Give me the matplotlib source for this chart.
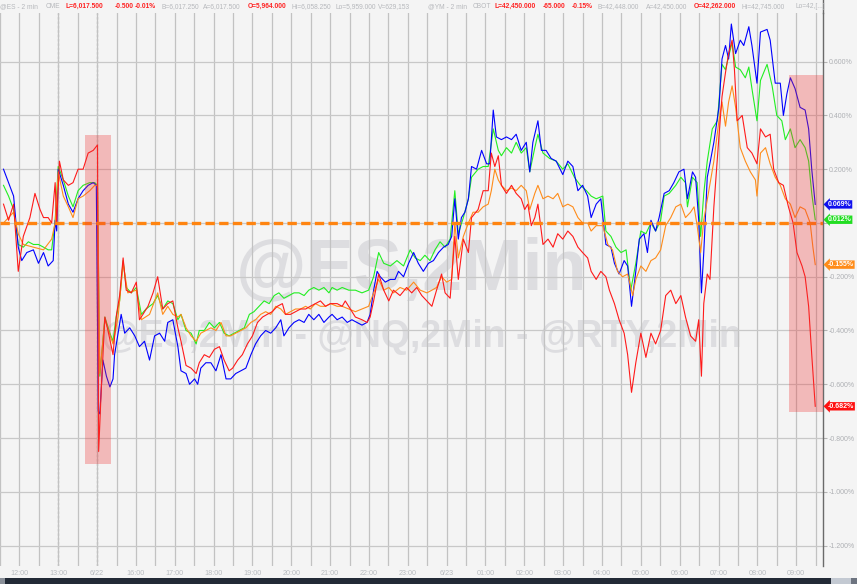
import matplotlib
matplotlib.use('Agg')
import numpy as np
import matplotlib.pyplot as plt
import matplotlib.transforms as mtransforms
from matplotlib.patches import Rectangle

plt.rcParams['font.family'] = ['Liberation Sans', 'DejaVu Sans']

# x = hours on the session axis (0 = 12:00, 2 = 6/22 open, 11 = 6/23 00:00, 20 = 09:00)
# y = % change
nq_x = [-0.41, -0.28, -0.15, -0.03, 0.06, 0.19, 0.36, 0.49, 0.62, 0.74, 0.87, 0.92, 0.96, 1.00,
        1.13, 1.26, 1.38, 1.51, 1.64, 1.77, 1.90, 1.98, 2.03, 2.07, 2.15, 2.24, 2.33, 2.41, 2.45,
        2.54, 2.62, 2.71, 2.84, 2.97, 3.09, 3.22, 3.35, 3.48, 3.61, 3.74, 3.82, 3.95, 4.08, 4.16,
        4.29, 4.38, 4.51, 4.59, 4.67, 4.80, 4.93, 5.06, 5.19, 5.32, 5.44, 5.57, 5.70, 5.83, 5.96,
        6.08, 6.21, 6.34, 6.47, 6.60, 6.73, 6.81, 6.94, 7.07, 7.20, 7.33, 7.45, 7.58, 7.71, 7.84,
        7.97, 8.05, 8.18, 8.31, 8.44, 8.56, 8.69, 8.82, 8.95, 9.03, 9.12, 9.21, 9.29, 9.42, 9.55,
        9.67, 9.76, 9.89, 10.02, 10.15, 10.27, 10.40, 10.53, 10.66, 10.79, 10.92, 11.04, 11.13,
        11.21, 11.30, 11.38, 11.47, 11.56, 11.64, 11.77, 11.90, 12.03, 12.11, 12.20, 12.28, 12.41,
        12.54, 12.67, 12.79, 12.92, 13.05, 13.14, 13.22, 13.35, 13.44, 13.56, 13.69, 13.82, 13.99,
        14.12, 14.25, 14.38, 14.50, 14.63, 14.72, 14.85, 14.97, 15.10, 15.23, 15.32, 15.44, 15.57,
        15.66, 15.76, 15.87, 15.96, 16.08, 16.17, 16.26, 16.38, 16.47, 16.60, 16.73, 16.85, 16.98,
        17.11, 17.20, 17.33, 17.41, 17.49, 17.56, 17.62, 17.71, 17.79, 17.88, 18.01, 18.09, 18.18,
        18.26, 18.33, 18.44, 18.56, 18.65, 18.78, 18.86, 18.99, 19.08, 19.25, 19.33, 19.46, 19.59,
        19.67, 19.76, 19.85, 19.97, 20.10, 20.23, 20.32, 20.40, 20.49]
nq_y = [0.20, 0.15, 0.10, -0.09, -0.14, -0.11, -0.10, -0.15, -0.11, -0.16, -0.14, 0.01, -0.03, 0.20,
        0.14, 0.07, 0.04, 0.09, 0.12, 0.14, 0.15, 0.14, -0.70, -0.71, -0.51, -0.57, -0.61, -0.58, -0.49,
        -0.41, -0.34, -0.41, -0.39, -0.42, -0.46, -0.44, -0.51, -0.42, -0.41, -0.44, -0.37, -0.36, -0.46, -0.55,
        -0.56, -0.60, -0.58, -0.60, -0.54, -0.52, -0.52, -0.55, -0.49, -0.58, -0.58, -0.56, -0.55, -0.54, -0.49,
        -0.45, -0.42, -0.40, -0.41, -0.39, -0.36, -0.42, -0.39, -0.37, -0.36, -0.37, -0.34, -0.36, -0.34, -0.37,
        -0.35, -0.34, -0.36, -0.35, -0.37, -0.36, -0.37, -0.38, -0.37, -0.34, -0.25, -0.18, -0.20, -0.22, -0.21,
        -0.21, -0.18, -0.20, -0.15, -0.11, -0.15, -0.18, -0.15, -0.14, -0.11, -0.09, -0.08, -0.05,
        0.09, -0.06, 0.02, 0.04, 0.09, 0.21, 0.20, 0.27, 0.22, 0.22, 0.42, 0.32, 0.31,
        0.32, 0.31, 0.33, 0.27, 0.30, 0.19, 0.30, 0.38, 0.27, 0.27, 0.24, 0.23, 0.18,
        0.23, 0.21, 0.12, 0.14, 0.10, 0.02, 0.07, 0.09, -0.08, -0.09, -0.15, -0.19, -0.14,
        -0.16, -0.31, -0.18, -0.06, -0.04, -0.11, 0.01, -0.03, 0.02, 0.11, 0.12, 0.15, 0.19,
        0.20, 0.09, 0.19, 0.17, 0.01, -0.26, -0.11, 0.17, 0.23, 0.30, 0.43, 0.61, 0.66,
        0.61, 0.74, 0.63, 0.68, 0.66, 0.73, 0.66, 0.52, 0.71, 0.72, 0.68, 0.52, 0.52,
        0.40, 0.48, 0.54, 0.50, 0.43, 0.42, 0.35, 0.20, 0.069]

es_x = [-0.41, -0.28, -0.15, -0.03, 0.10, 0.23, 0.36, 0.49, 0.62, 0.74, 0.83, 0.92, 1.00, 1.13,
        1.26, 1.38, 1.51, 1.64, 1.81, 1.94, 2.01, 2.07, 2.20, 2.33, 2.41, 2.49, 2.58, 2.67, 2.75,
        2.88, 3.01, 3.14, 3.26, 3.44, 3.56, 3.69, 3.82, 3.95, 4.08, 4.16, 4.29, 4.42, 4.55, 4.63,
        4.76, 4.89, 5.02, 5.15, 5.27, 5.40, 5.53, 5.66, 5.79, 5.92, 6.04, 6.17, 6.30, 6.43, 6.56,
        6.68, 6.81, 6.94, 7.07, 7.20, 7.33, 7.45, 7.58, 7.71, 7.84, 7.97, 8.05, 8.18, 8.31, 8.48,
        8.65, 8.82, 8.99, 9.12, 9.25, 9.38, 9.55, 9.72, 9.89, 10.06, 10.19, 10.32, 10.44, 10.57,
        10.70, 10.83, 10.96, 11.09, 11.21, 11.30, 11.43, 11.56, 11.64, 11.81, 11.94, 12.07, 12.20,
        12.33, 12.41, 12.54, 12.67, 12.79, 12.92, 13.05, 13.14, 13.27, 13.35, 13.48, 13.65, 13.82,
        13.99, 14.12, 14.29, 14.44, 14.60, 14.72, 14.85, 15.02, 15.10, 15.23, 15.36, 15.49, 15.62,
        15.74, 15.87, 16.00, 16.13, 16.26, 16.38, 16.51, 16.60, 16.73, 16.90, 17.03, 17.15, 17.20,
        17.33, 17.45, 17.54, 17.62, 17.71, 17.84, 17.97, 18.09, 18.18, 18.26, 18.35, 18.44, 18.56,
        18.69, 18.78, 18.86, 18.99, 19.08, 19.25, 19.38, 19.50, 19.63, 19.72, 19.85, 19.97, 20.10,
        20.23, 20.32, 20.40, 20.49]
es_y = [0.14, 0.10, 0.05, -0.08, -0.09, -0.07, -0.08, -0.08, -0.09, -0.10, -0.10, 0.01, 0.21, 0.16,
        0.10, 0.06, 0.12, 0.14, 0.15, 0.15, 0.14, -0.57, -0.35, -0.41, -0.44, -0.35, -0.29, -0.14, -0.24,
        -0.26, -0.24, -0.34, -0.32, -0.30, -0.27, -0.32, -0.29, -0.30, -0.36, -0.34, -0.40, -0.41, -0.45, -0.40,
        -0.40, -0.37, -0.39, -0.37, -0.41, -0.42, -0.41, -0.40, -0.39, -0.34, -0.33, -0.31, -0.29, -0.30, -0.27,
        -0.26, -0.28, -0.27, -0.26, -0.26, -0.27, -0.25, -0.24, -0.25, -0.24, -0.26, -0.24, -0.25, -0.24, -0.25,
        -0.25, -0.26, -0.25, -0.20, -0.11, -0.15, -0.16, -0.14, -0.16, -0.10, -0.13, -0.14, -0.12, -0.14,
        -0.10, -0.07, -0.09, -0.06, 0.12, -0.04, 0.02, 0.09, 0.17, 0.20, 0.21, 0.21, 0.35,
        0.27, 0.25, 0.28, 0.26, 0.30, 0.26, 0.28, 0.19, 0.28, 0.33, 0.26, 0.24, 0.23,
        0.20, 0.22, 0.17, 0.14, 0.12, 0.10, 0.09, 0.10, -0.03, -0.05, -0.09, -0.11, -0.10,
        -0.25, -0.15, -0.03, -0.04, 0.00, -0.03, 0.01, 0.10, 0.11, 0.14, 0.17, 0.15, 0.06,
        0.17, 0.15, -0.05, 0.11, 0.23, 0.35, 0.38, 0.59, 0.57, 0.62, 0.67, 0.58, 0.57,
        0.54, 0.58, 0.50, 0.38, 0.53, 0.59, 0.51, 0.40, 0.38, 0.31, 0.35, 0.28, 0.31,
        0.28, 0.23, 0.11, 0.012]

ym_x = [-0.41, -0.28, -0.15, -0.03, 0.10, 0.36, 0.62, 0.83, 0.92, 1.00, 1.13, 1.26, 1.38, 1.51,
        1.64, 1.81, 1.94, 2.01, 2.07, 2.20, 2.41, 2.54, 2.67, 2.79, 3.01, 3.14, 3.35, 3.56, 3.69,
        3.82, 3.95, 4.08, 4.16, 4.29, 4.42, 4.55, 4.67, 4.80, 4.93, 5.06, 5.19, 5.32, 5.44, 5.57,
        5.70, 5.83, 5.96, 6.08, 6.21, 6.34, 6.47, 6.60, 6.73, 6.85, 6.98, 7.11, 7.24, 7.37, 7.49,
        7.62, 7.75, 7.88, 8.01, 8.18, 8.31, 8.48, 8.65, 8.82, 8.99, 9.12, 9.25, 9.38, 9.51, 9.63,
        9.80, 9.97, 10.15, 10.32, 10.49, 10.62, 10.74, 10.87, 11.00, 11.13, 11.21, 11.30, 11.43,
        11.56, 11.68, 11.81, 11.94, 12.07, 12.15, 12.24, 12.33, 12.41, 12.54, 12.67, 12.79, 12.92,
        13.05, 13.14, 13.27, 13.35, 13.48, 13.61, 13.74, 13.86, 13.99, 14.12, 14.25, 14.38, 14.50,
        14.63, 14.72, 14.85, 15.02, 15.15, 15.27, 15.40, 15.53, 15.66, 15.79, 15.87, 16.00, 16.13,
        16.26, 16.38, 16.51, 16.64, 16.77, 16.90, 17.03, 17.15, 17.28, 17.37, 17.45, 17.54, 17.62,
        17.75, 17.88, 18.01, 18.09, 18.18, 18.26, 18.35, 18.44, 18.56, 18.69, 18.82, 18.95, 18.99,
        19.08, 19.21, 19.33, 19.46, 19.59, 19.72, 19.85, 19.97, 20.10, 20.23, 20.36, 20.43, 20.49]
ym_y = [0.00, 0.02, 0.04, -0.04, -0.08, -0.09, -0.10, -0.06, 0.00, 0.19, 0.10, 0.06, 0.02, 0.09,
        0.10, 0.12, 0.14, 0.14, -0.56, -0.36, -0.45, -0.35, -0.15, -0.26, -0.25, -0.36, -0.34, -0.26, -0.34,
        -0.31, -0.34, -0.35, -0.34, -0.39, -0.42, -0.44, -0.41, -0.40, -0.39, -0.40, -0.37, -0.42, -0.42, -0.41,
        -0.40, -0.39, -0.37, -0.36, -0.34, -0.33, -0.34, -0.31, -0.32, -0.34, -0.33, -0.32, -0.32, -0.31, -0.32,
        -0.30, -0.31, -0.31, -0.30, -0.31, -0.31, -0.32, -0.33, -0.32, -0.31, -0.26, -0.21, -0.25, -0.24, -0.26,
        -0.24, -0.25, -0.22, -0.25, -0.26, -0.25, -0.24, -0.20, -0.22, -0.21, 0.00, -0.13, -0.05,
        0.00, 0.04, 0.04, 0.06, 0.07, 0.12, 0.20, 0.16, 0.14, 0.12, 0.13, 0.12, 0.14,
        0.12, 0.05, 0.11, 0.14, 0.09, 0.10, 0.09, 0.11, 0.06, 0.07, 0.06, 0.02, 0.00,
        0.00, -0.03, -0.01, -0.01, -0.08, -0.10, -0.18, -0.20, -0.19, -0.27, -0.21, -0.16, -0.18,
        -0.14, -0.13, -0.10, -0.01, 0.02, 0.06, 0.07, 0.02, 0.04, 0.06, -0.01, -0.11, 0.01,
        0.12, 0.23, 0.38, 0.45, 0.36, 0.45, 0.51, 0.43, 0.28, 0.23, 0.19, 0.16, 0.10,
        0.26, 0.28, 0.22, 0.17, 0.14, 0.09, 0.07, 0.02, 0.06, 0.05, 0.00, -0.09, -0.155]

rty_x = [-0.41, -0.28, -0.15, -0.03, 0.10, 0.27, 0.40, 0.53, 0.62, 0.74, 0.83, 0.92, 0.96, 1.03,
         1.13, 1.26, 1.38, 1.51, 1.64, 1.77, 1.90, 2.01, 2.04, 2.11, 2.20, 2.28, 2.41, 2.50, 2.58,
         2.67, 2.75, 2.88, 3.01, 3.09, 3.18, 3.31, 3.44, 3.56, 3.69, 3.82, 3.95, 4.08, 4.16, 4.29,
         4.42, 4.55, 4.63, 4.76, 4.89, 5.02, 5.15, 5.27, 5.40, 5.49, 5.62, 5.74, 5.87, 6.00, 6.13,
         6.26, 6.38, 6.51, 6.64, 6.77, 6.85, 6.98, 7.11, 7.24, 7.37, 7.49, 7.62, 7.75, 7.88, 8.01,
         8.18, 8.31, 8.39, 8.52, 8.65, 8.82, 8.95, 9.03, 9.12, 9.25, 9.38, 9.51, 9.63, 9.80, 9.97,
         10.10, 10.23, 10.36, 10.49, 10.62, 10.74, 10.87, 10.96, 11.09, 11.21, 11.30, 11.43, 11.56,
         11.64, 11.81, 11.94, 12.07, 12.15, 12.24, 12.33, 12.41, 12.54, 12.67, 12.79, 12.92, 13.01,
         13.09, 13.18, 13.27, 13.35, 13.48, 13.61, 13.74, 13.86, 13.99, 14.12, 14.25, 14.38, 14.50,
         14.63, 14.72, 14.85, 14.97, 15.10, 15.19, 15.32, 15.44, 15.57, 15.66, 15.76, 15.87, 16.00,
         16.13, 16.26, 16.38, 16.51, 16.64, 16.77, 16.90, 17.03, 17.15, 17.28, 17.41, 17.49, 17.56,
         17.62, 17.71, 17.78, 17.88, 18.01, 18.09, 18.18, 18.26, 18.35, 18.41, 18.48, 18.61, 18.74,
         18.86, 18.99, 19.08, 19.21, 19.33, 19.42, 19.55, 19.67, 19.80, 19.92, 20.02, 20.15, 20.23,
         20.32, 20.40, 20.49]
rty_y = [0.07, 0.01, 0.07, -0.18, -0.05, 0.02, 0.11, 0.05, 0.02, 0.02, 0.00, 0.15, 0.00, 0.23,
         0.16, 0.14, 0.15, 0.20, 0.20, 0.26, 0.27, 0.29, -0.85, -0.61, -0.35, -0.40, -0.49, -0.34, -0.27,
         -0.13, -0.25, -0.26, -0.22, -0.36, -0.34, -0.31, -0.26, -0.20, -0.32, -0.30, -0.29, -0.39, -0.44, -0.53,
         -0.54, -0.56, -0.52, -0.49, -0.50, -0.47, -0.46, -0.51, -0.55, -0.54, -0.51, -0.49, -0.45, -0.42, -0.37,
         -0.35, -0.34, -0.33, -0.31, -0.30, -0.34, -0.34, -0.33, -0.32, -0.32, -0.31, -0.30, -0.29, -0.31, -0.30,
         -0.30, -0.31, -0.29, -0.32, -0.35, -0.36, -0.37, -0.35, -0.29, -0.19, -0.25, -0.29, -0.25, -0.27, -0.24,
         -0.26, -0.24, -0.27, -0.29, -0.31, -0.25, -0.19, -0.26, -0.28, -0.05, -0.21, -0.06, -0.11,
         0.02, 0.05, 0.12, 0.12, 0.26, 0.21, 0.25, 0.14, 0.11, 0.14, 0.11, 0.09, 0.05,
         0.07, -0.01, 0.02, 0.07, -0.08, -0.06, -0.09, -0.04, -0.06, -0.03, -0.05, -0.09, -0.11,
         -0.13, -0.18, -0.21, -0.18, -0.20, -0.25, -0.30, -0.36, -0.41, -0.49, -0.63, -0.52, -0.41,
         -0.50, -0.41, -0.45, -0.40, -0.27, -0.25, -0.30, -0.27, -0.35, -0.42, -0.44, -0.36, -0.57,
         -0.30, -0.19, -0.21, 0.06, 0.32, 0.47, 0.56, 0.63, 0.68, 0.57, 0.38, 0.40, 0.28,
         0.26, 0.22, 0.35, 0.32, 0.33, 0.20, 0.15, 0.14, 0.06, 0.00, -0.11, -0.16, -0.20,
         -0.31, -0.49, -0.682]

hour_ticks = list(range(21))
hour_labels = ['12:00', '13:00', '6/22', '16:00', '17:00', '18:00', '19:00', '20:00', '21:00',
               '22:00', '23:00', '6/23', '01:00', '02:00', '03:00', '04:00', '05:00', '06:00',
               '07:00', '08:00', '09:00']
pct_ticks = [-1.2, -1.0, -0.8, -0.6, -0.4, -0.2, 0.0, 0.2, 0.4, 0.6]

# highlighted windows: (x0, x1, y0, y1)
boxes = [(1.69, 2.36, -0.897, 0.327), (19.82, 20.69, -0.703, 0.551)]

last_vals = [('0.069%', 0.069, '#1010ee'), ('0.012%', 0.012, '#22dd22'),
             ('-0.155%', -0.155, '#ff8c1a'), ('-0.682%', -0.682, '#ff1010')]

header_es = [('@ES - 2 min', 0, 'g'), ('CME', 46, 'g'), ('L=6,017.500', 66, 'r'), ('-0.500', 115, 'r'),
             ('-0.01%', 134.7, 'r'), ('B=6,017.250', 161, 'g'), ('A=6,017.500', 203, 'g'),
             ('O=5,964.000', 248, 'r'), ('Hi=6,058.250', 292, 'g'), ('Lo=5,959.000', 335, 'g'),
             ('V=629,153', 378, 'g')]
header_ym = [('@YM - 2 min', 428, 'g'), ('CBOT', 473, 'g'), ('L=42,450.000', 494.7, 'r'),
             ('-65.000', 543, 'r'), ('-0.15%', 571.3, 'r'), ('B=42,448.000', 598, 'g'),
             ('A=42,450.000', 646, 'g'), ('O=42,262.000', 693.7, 'r'), ('Hi=42,745.000', 741.3, 'g'),
             ('Lo=42,[...]', 795.7, 'g')]

BG = '#f4f4f4'
W, H = 857, 584
fig = plt.figure(figsize=(W / 100, H / 100), dpi=100, facecolor=BG)
ax = fig.add_axes([0, 18 / H, 823 / W, 553 / H])
ax.set_facecolor(BG)
ax.set_xlim(-0.41, 20.69)
ax.set_ylim(-1.276, 0.781)

# grid
ax.set_xticks(hour_ticks)
ax.set_xticklabels(hour_labels)
ax.set_xticks(np.arange(-0.5, 21, 1), minor=True)
ax.grid(which='both', axis='x', color='#c2c2c2', lw=0.9, zorder=0)
ax.set_yticks(pct_ticks)
# the 0.000% label sits under the last-value badges, so leave it blank
ax.set_yticklabels(['' if v == 0 else '%.3f%%' % v for v in pct_ticks])
ax.grid(which='major', axis='y', color='#c8c8c8', lw=0.9, zorder=0)
for sep in (1, 2):
    ax.axvline(sep, color='#9c9c9c', lw=0.9, ls=(0, (2, 1.5)), zorder=0.5)

ax.yaxis.tick_right()
ax.tick_params(axis='y', which='major', length=3, width=0.8, color='#b4b4b4', pad=1,
               labelsize=5, labelcolor='#aeb0b4')
ax.tick_params(axis='x', which='both', length=0, pad=3, labelsize=5.2, labelcolor='#b8bcc0')
for s in ('top', 'left', 'bottom'):
    ax.spines[s].set_visible(False)
ax.spines['right'].set_color('#6a6a6a')
ax.spines['right'].set_linewidth(1)

# watermarks
ax.text(0.50, 0.499, '@ES,2Min', transform=ax.transAxes, ha='center', va='baseline',
        fontsize=52, fontweight='bold', color='#dddde0', zorder=0.6)
ax.text(0.513, 0.396, '@ES,2Min - @NQ,2Min - @RTY,2Min', transform=ax.transAxes, ha='center',
        va='baseline', fontsize=27, fontweight='bold', color='#dddde0', zorder=0.6)

# zero reference
ax.axhline(0, color='#ff8410', lw=2.4, dashes=(2.8, 1.3), zorder=3)

ax.plot(es_x, es_y, color='#22ee22', lw=0.8, zorder=2)
ax.plot(nq_x, nq_y, color='#0000ff', lw=0.8, zorder=2.1)
ax.plot(ym_x, ym_y, color='#ff8c1a', lw=0.8, zorder=2.2)
ax.plot(rty_x, rty_y, color='#ff1a1a', lw=0.8, zorder=2.3)

for x0, x1, y0, y1 in boxes:
    ax.add_patch(Rectangle((x0, y0), x1 - x0, y1 - y0, facecolor='#ee3333', alpha=0.3,
                           lw=0, zorder=4, clip_on=False))

trans = mtransforms.blended_transform_factory(ax.transAxes, ax.transData)
for txt, v, c in last_vals:
    ax.text(1.006, v, txt, transform=trans, ha='left', va='center', fontsize=5, fontweight='bold',
            color='white', zorder=6, clip_on=False,
            bbox=dict(boxstyle='larrow,pad=0.1', facecolor=c, edgecolor='none'))

# header strip
for items in (header_es, header_ym):
    for txt, xp, kind in items:
        if kind == 'r':
            fig.text(xp / W, 1 - 6.5 / H, txt, ha='left', va='center', fontsize=4.8,
                     fontweight='bold', color='#ff2222')
        else:
            fig.text(xp / W, 1 - 6.5 / H, txt, ha='left', va='center', fontsize=4.8, color='#b6b8bc')
fig.add_artist(plt.Line2D([823 / W, 823 / W], [1 - 13 / H, 1], color='#6a6a6a', lw=1))

# bottom scroll bar
fig.add_artist(Rectangle((5 / W, 0), 826 / W, 6 / H, facecolor='#222a36', edgecolor='none'))
fig.add_artist(Rectangle((0, 0), 5 / W, 6 / H, facecolor='#8a9099', edgecolor='none'))
fig.add_artist(Rectangle((831 / W, 0), 20 / W, 6 / H, facecolor='#c3c9d2', edgecolor='none'))
fig.add_artist(Rectangle((851 / W, 0), 6 / W, 6 / H, facecolor='#6d7480', edgecolor='none'))

fig.savefig('out.png', dpi=100, facecolor=BG)
